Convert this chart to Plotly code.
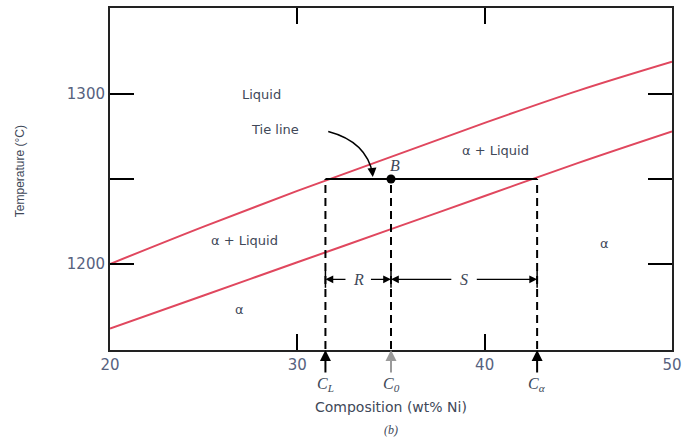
import plotly.graph_objects as go

# Cu-Ni phase diagram detail around the tie line at 1250 °C
composition = [20, 25, 30, 35, 40, 45, 50]          # wt% Ni
liquidus_T = [1200, 1222, 1243, 1263, 1283, 1302, 1319]
solidus_T = [1162, 1181.5, 1201, 1220.5, 1240, 1259.5, 1278]

T_tie = 1250
C_L = 31.5
C_0 = 35
C_alpha = 42.8
T_lever = 1191

x_ticks = [20, 30, 40, 50]
y_ticks = [1200, 1250, 1300]
y_ticklabels = ["1200", "", "1300"]

region_labels = [
    ("Liquid", 28.1, 1300),
    ("α + Liquid", 40.6, 1266.5),
    ("α + Liquid", 27.2, 1214),
    ("α", 26.9, 1173),
    ("α", 46.4, 1212),
]

RED = "#e0475e"
TXT = "#404858"
TICK_TXT = "#56627e"
SANS = "DejaVu Sans, Arial, sans-serif"
NARROW = "Liberation Sans, Arial, sans-serif"
SERIF = "Liberation Serif, Times New Roman, serif"

fig = go.Figure()
fig.add_trace(go.Scatter(x=composition, y=liquidus_T, mode="lines",
                         line=dict(color=RED, width=2, shape="spline"),
                         hoverinfo="skip"))
fig.add_trace(go.Scatter(x=composition, y=solidus_T, mode="lines",
                         line=dict(color=RED, width=2, shape="spline"),
                         hoverinfo="skip"))

# tie line
fig.add_shape(type="line", x0=C_L, x1=C_alpha, y0=T_tie, y1=T_tie,
              line=dict(color="black", width=2))
# dashed drop lines
for c in (C_L, C_0, C_alpha):
    fig.add_shape(type="line", x0=c, x1=c, y0=1150, y1=T_tie,
                  line=dict(color="black", width=2, dash="8px,5px"))
    fig.add_shape(type="line", x0=c, x1=c, y0=T_lever - 5, y1=T_lever + 5,
                  line=dict(color="black", width=1.5))

# point B
fig.add_trace(go.Scatter(x=[C_0], y=[T_tie], mode="markers",
                         marker=dict(color="black", size=9), hoverinfo="skip"))
fig.add_annotation(x=C_0 + 0.2, y=T_tie + 8, text="<i>B</i>", showarrow=False,
                   font=dict(family=SERIF, size=16, color=TXT))

# lever arms R and S
r_mid = (C_L + C_0) / 2
s_mid = (C_0 + C_alpha) / 2
lever_arrows = [
    (C_L, r_mid - 0.6), (C_0, r_mid + 0.6),
    (C_0, s_mid - 0.6), (C_alpha, s_mid + 0.6),
]
for tip, tail in lever_arrows:
    fig.add_annotation(x=tip, y=T_lever, ax=tail, ay=T_lever, axref="x", ayref="y",
                       xref="x", yref="y", text="", showarrow=True,
                       arrowhead=2, arrowsize=1.2, arrowwidth=1.3, arrowcolor="black")
fig.add_annotation(x=r_mid, y=T_lever, text="<i>R</i>", showarrow=False,
                   font=dict(family=SERIF, size=16, color=TXT))
fig.add_annotation(x=s_mid, y=T_lever, text="<i>S</i>", showarrow=False,
                   font=dict(family=SERIF, size=16, color=TXT))

# region labels
for txt, x, y in region_labels:
    fig.add_annotation(x=x, y=y, text=txt, showarrow=False,
                       font=dict(family=SANS, size=13, color=TXT))

# "Tie line" callout with curved arrow
fig.add_annotation(x=28.8, y=1279, text="Tie line", showarrow=False,
                   font=dict(family=SANS, size=13, color=TXT))
fig.add_shape(type="path", xref="x", yref="y",
              path="M 31.65,1278 Q 33.7,1272 34.02,1253",
              line=dict(color="black", width=1.5))
fig.add_annotation(x=34.03, y=1251.2, ax=33.98, ay=1257, axref="x", ayref="y",
                   text="", showarrow=True, arrowhead=2, arrowsize=1.2,
                   arrowwidth=1.5, arrowcolor="black")

# composition markers below the axis
for c, lab, col in ((C_L, "C<sub>L</sub>", "black"),
                    (C_0, "C<sub>0</sub>", "#9a9a9a"),
                    (C_alpha, "C<sub>α</sub>", "black")):
    fig.add_annotation(x=c, y=1150, xref="x", yref="y", ax=0, ay=25, text="",
                       showarrow=True, arrowhead=2, arrowsize=1.1,
                       arrowwidth=2, arrowcolor=col, standoff=1)
    fig.add_annotation(x=c, y=-0.1, xref="x", yref="paper", yanchor="middle",
                       text="<i>" + lab + "</i>", showarrow=False,
                       font=dict(family=SERIF, size=16, color=TXT))

fig.add_annotation(x=35, y=-0.167, xref="x", yref="paper", yanchor="middle",
                   text="Composition (wt% Ni)", showarrow=False,
                   font=dict(family=SANS, size=14, color=TXT))
fig.add_annotation(x=35, y=-0.234, xref="x", yref="paper", yanchor="middle",
                   text="<i>(b)</i>", showarrow=False,
                   font=dict(family=SERIF, size=12, color=TXT))
fig.add_annotation(x=-0.16, y=0.523, xref="paper", yref="paper", xanchor="center",
                   yanchor="middle", text="Temperature (°C)", textangle=-90,
                   showarrow=False, font=dict(family=NARROW, size=12, color=TXT))

fig.update_layout(
    width=683, height=440,
    margin=dict(l=110, r=11, t=8, b=90),
    paper_bgcolor="white", plot_bgcolor="white",
    showlegend=False,
    xaxis=dict(range=[20, 50], tickvals=x_ticks, ticks="inside", ticklen=16,
               tickwidth=2, tickcolor="black", showline=True, linecolor="#222",
               linewidth=2, mirror="ticks", showgrid=False, zeroline=False,
               automargin=False,
               tickfont=dict(family=SANS, size=15, color=TICK_TXT)),
    yaxis=dict(range=[1149.4, 1350.6], tickvals=y_ticks, ticktext=y_ticklabels,
               ticks="inside", ticklen=24, tickwidth=2, tickcolor="black",
               showline=True, linecolor="#222", linewidth=2, mirror="ticks",
               showgrid=False, zeroline=False, automargin=False,
               tickfont=dict(family=SANS, size=15, color=TICK_TXT)),
)

fig.write_html("out.html")
